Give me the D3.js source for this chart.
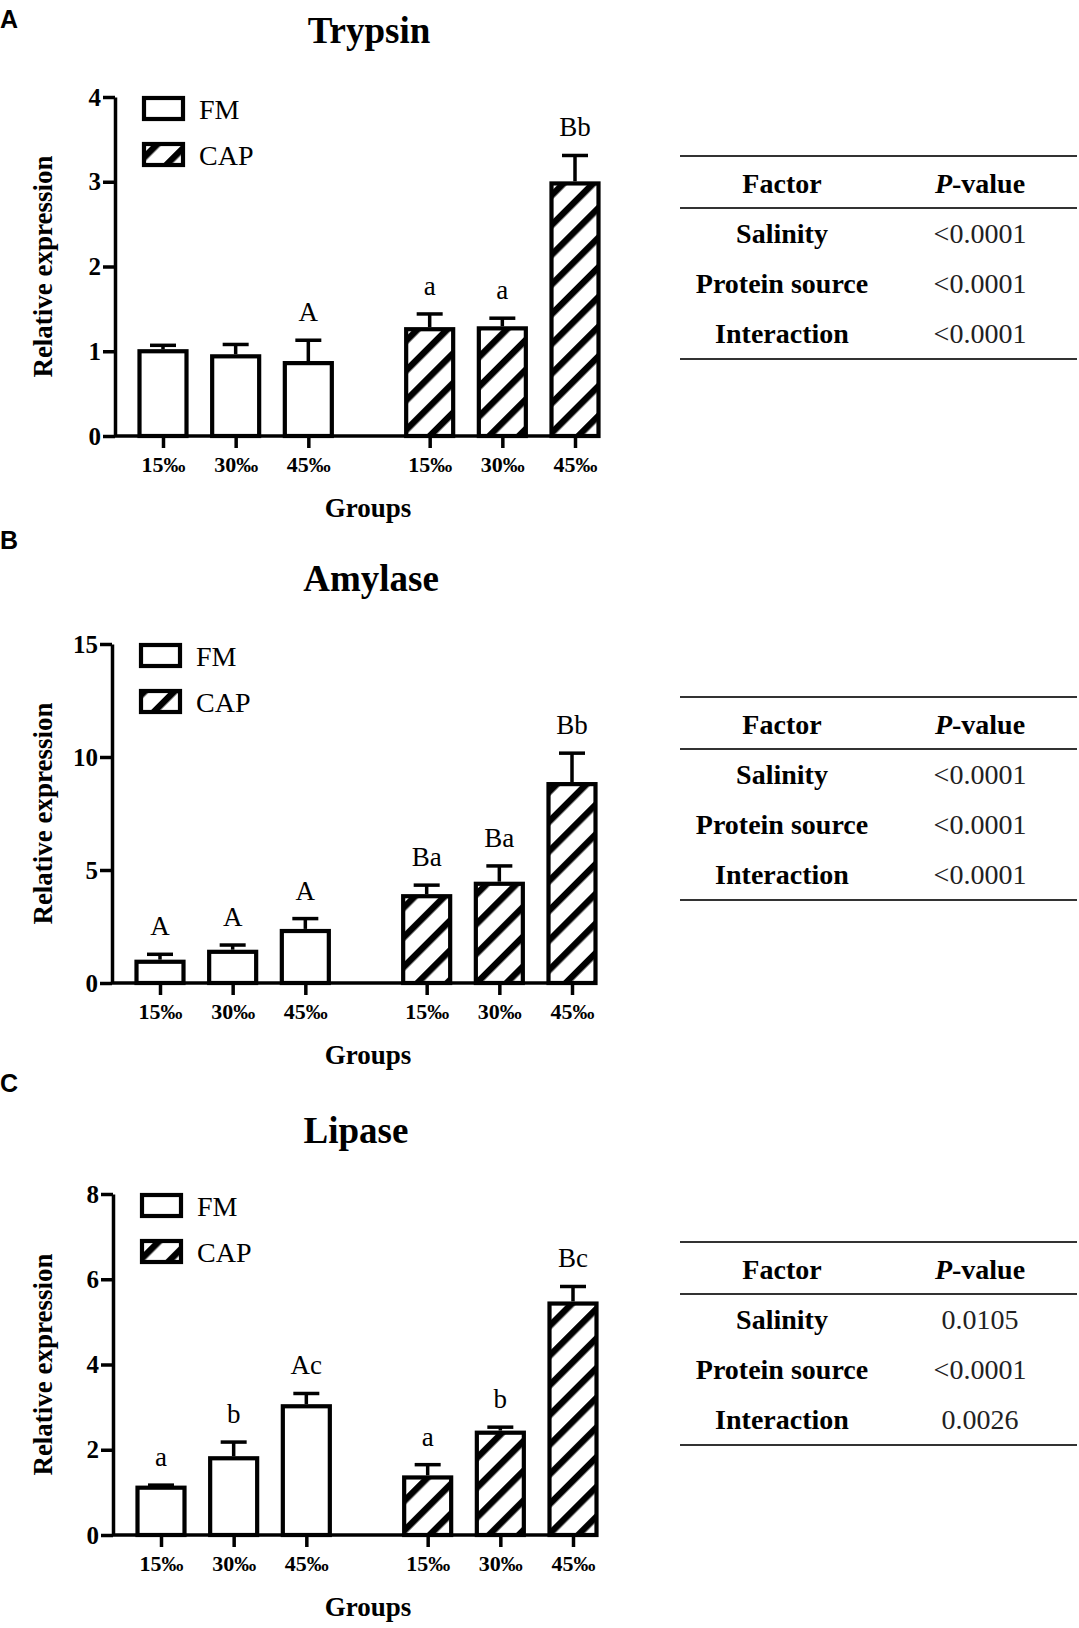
<!DOCTYPE html>
<html>
<head>
<meta charset="utf-8">
<script src="https://cdn.jsdelivr.net/npm/d3@7.9.0/dist/d3.min.js"></script>
<style>
  body { margin: 0; background: #fff; }
  svg { display: block; }
  .serif { font-family: "Liberation Serif", "Times New Roman", serif; }
</style>
</head>
<body>
<svg id="fig" width="1079" height="1628"></svg>
<script>
// group labels along the x axis (FM diets first, then CAP diets)
const groups = ['15‰', '30‰', '45‰', '15‰', '30‰', '45‰'];
const diets = ['FM', 'FM', 'FM', 'CAP', 'CAP', 'CAP'];
const factors = ['Salinity', 'Protein source', 'Interaction'];

// Trypsin
const trypsinMean = [1.00, 0.94, 0.86, 1.26, 1.27, 2.98];
const trypsinErr = [0.07, 0.14, 0.27, 0.18, 0.12, 0.33];
const trypsinLetters = ['', '', 'A', 'a', 'a', 'Bb'];
const trypsinTicks = [0, 1, 2, 3, 4];
const trypsinP = ['<0.0001', '<0.0001', '<0.0001'];

// Amylase
const amylaseMean = [0.94, 1.38, 2.30, 3.84, 4.39, 8.80];
const amylaseErr = [0.33, 0.30, 0.55, 0.49, 0.79, 1.37];
const amylaseLetters = ['A', 'A', 'A', 'Ba', 'Ba', 'Bb'];
const amylaseTicks = [0, 5, 10, 15];
const amylaseP = ['<0.0001', '<0.0001', '<0.0001'];

// Lipase
const lipaseMean = [1.11, 1.80, 3.02, 1.35, 2.40, 5.43];
const lipaseErr = [0.06, 0.38, 0.30, 0.30, 0.13, 0.40];
const lipaseLetters = ['a', 'b', 'Ac', 'a', 'b', 'Bc'];
const lipaseTicks = [0, 2, 4, 6, 8];
const lipaseP = ['0.0105', '<0.0001', '0.0026'];

// where each bar sits on the x axis (gap between the two diet groups)
const slots = [0, 1, 2, 3.67, 4.67, 5.67];

const panels = [
  { letter: 'A', title: 'Trypsin', mean: trypsinMean, err: trypsinErr, labels: trypsinLetters,
    ticks: trypsinTicks, p: trypsinP, axisX: 115, top: 97, bottom: 436,
    letterY: 28, titleY: 43, titleX: 369, tableTop: 156 },
  { letter: 'B', title: 'Amylase', mean: amylaseMean, err: amylaseErr, labels: amylaseLetters,
    ticks: amylaseTicks, p: amylaseP, axisX: 112, top: 644, bottom: 983,
    letterY: 549, titleY: 591, titleX: 371, tableTop: 697 },
  { letter: 'C', title: 'Lipase', mean: lipaseMean, err: lipaseErr, labels: lipaseLetters,
    ticks: lipaseTicks, p: lipaseP, axisX: 113, top: 1194, bottom: 1535,
    letterY: 1092, titleY: 1143, titleX: 356, tableTop: 1242 }
];

const svg = d3.select('#fig');
svg.append('rect').attr('width', 1079).attr('height', 1628).attr('fill', '#fff');

// diagonal hatch for the CAP bars
const defs = svg.append('defs');
const pat = defs.append('pattern')
  .attr('id', 'hatch')
  .attr('patternUnits', 'userSpaceOnUse')
  .attr('width', 21)
  .attr('height', 21)
  .attr('patternTransform', 'rotate(45)');
pat.append('rect').attr('width', 21).attr('height', 21).attr('fill', '#fff');
pat.append('rect').attr('x', 0).attr('width', 6.5).attr('height', 21).attr('fill', '#000');

const barW = 47;
const strokeW = 4.2;

function drawPanel(cfg) {
  const g = svg.append('g');
  const yMax = cfg.ticks[cfg.ticks.length - 1];

  const y = d3.scaleLinear().domain([0, yMax]).range([cfg.bottom, cfg.top]);
  const x = d3.scaleLinear().domain([0, 5.67]).range([cfg.axisX + 48, cfg.axisX + 460]);

  // panel letter
  g.append('text')
    .attr('x', 0).attr('y', cfg.letterY)
    .attr('font-family', '"Liberation Sans", Arial, sans-serif')
    .attr('font-weight', 'bold').attr('font-size', 25)
    .text(cfg.letter);

  // title
  g.append('text').attr('class', 'serif')
    .attr('x', cfg.titleX).attr('y', cfg.titleY)
    .attr('text-anchor', 'middle')
    .attr('font-weight', 'bold').attr('font-size', 37)
    .text(cfg.title);

  // bars
  const idx = d3.range(cfg.mean.length);
  g.selectAll('rect.bar')
    .data(idx)
    .join('rect')
    .attr('class', 'bar')
    .attr('x', i => x(slots[i]) - barW / 2)
    .attr('width', barW)
    .attr('y', i => y(cfg.mean[i]))
    .attr('height', i => y(0) - y(cfg.mean[i]))
    .attr('fill', i => diets[i] === 'CAP' ? 'url(#hatch)' : '#fff')
    .attr('stroke', '#000')
    .attr('stroke-width', strokeW);

  // error bars (upper whisker only)
  const eb = g.selectAll('g.err').data(idx).join('g').attr('class', 'err')
    .attr('stroke', '#000').attr('stroke-width', 3.5);
  eb.append('line')
    .attr('x1', i => x(slots[i])).attr('x2', i => x(slots[i]))
    .attr('y1', i => y(cfg.mean[i]) - strokeW / 2)
    .attr('y2', i => y(cfg.mean[i] + cfg.err[i]));
  eb.append('line')
    .attr('x1', i => x(slots[i]) - 13).attr('x2', i => x(slots[i]) + 13)
    .attr('y1', i => y(cfg.mean[i] + cfg.err[i]))
    .attr('y2', i => y(cfg.mean[i] + cfg.err[i]));

  // significance letters
  g.selectAll('text.sig').data(idx).join('text')
    .attr('class', 'sig serif')
    .attr('x', i => x(slots[i]))
    .attr('y', i => y(cfg.mean[i] + cfg.err[i]) - 19)
    .attr('text-anchor', 'middle')
    .attr('font-size', 27)
    .text(i => cfg.labels[i]);

  // y axis
  const yAxis = g.append('g')
    .attr('transform', `translate(${cfg.axisX},0)`)
    .call(d3.axisLeft(y).tickValues(cfg.ticks).tickFormat(d3.format('d'))
      .tickSize(12).tickSizeOuter(0).tickPadding(2));
  yAxis.selectAll('path, line').attr('stroke', '#000').attr('stroke-width', 3.5);
  yAxis.selectAll('text')
    .attr('font-family', '"Liberation Serif", "Times New Roman", serif')
    .attr('font-weight', 'bold').attr('font-size', 25).attr('fill', '#000');

  // x axis
  const xAxis = g.append('g')
    .attr('transform', `translate(0,${cfg.bottom})`)
    .call(d3.axisBottom(x).tickValues(slots).tickFormat((d, i) => groups[i])
      .tickSize(12).tickSizeOuter(0).tickPadding(8));
  xAxis.select('.domain').remove();
  xAxis.append('line')
    .attr('x1', cfg.axisX).attr('x2', x(slots[5]) + barW / 2 + 1)
    .attr('stroke', '#000').attr('stroke-width', 3.5);
  xAxis.selectAll('line').attr('stroke', '#000').attr('stroke-width', 3.5);
  xAxis.selectAll('text')
    .attr('font-family', '"Liberation Serif", "Times New Roman", serif')
    .attr('font-weight', 'bold').attr('font-size', 22).attr('fill', '#000');

  // axis titles
  g.append('text').attr('class', 'serif')
    .attr('transform', `translate(52,${(cfg.top + cfg.bottom) / 2}) rotate(-90)`)
    .attr('text-anchor', 'middle')
    .attr('font-weight', 'bold').attr('font-size', 27)
    .text('Relative expression');
  g.append('text').attr('class', 'serif')
    .attr('x', 368).attr('y', cfg.bottom + 81)
    .attr('text-anchor', 'middle')
    .attr('font-weight', 'bold').attr('font-size', 27)
    .text('Groups');

  // legend
  const legend = [['FM', '#fff'], ['CAP', 'url(#hatch)']];
  legend.forEach(([name, fill], k) => {
    const ly = cfg.top + 1 + k * 46;
    g.append('rect')
      .attr('x', cfg.axisX + 29).attr('y', ly)
      .attr('width', 39).attr('height', 21)
      .attr('fill', fill).attr('stroke', '#000').attr('stroke-width', strokeW);
    g.append('text').attr('class', 'serif')
      .attr('x', cfg.axisX + 84).attr('y', ly + 21)
      .attr('font-size', 28)
      .text(name);
  });

  // two-way ANOVA table
  const t0 = cfg.tableTop;
  const tx1 = 680, tx2 = 1077, c1 = 782, c2 = 980;
  const rule = (yy) => g.append('line')
    .attr('x1', tx1).attr('x2', tx2).attr('y1', yy).attr('y2', yy)
    .attr('stroke', '#333').attr('stroke-width', 2);
  rule(t0);
  rule(t0 + 52);
  rule(t0 + 203);

  g.append('text').attr('class', 'serif')
    .attr('x', c1).attr('y', t0 + 37).attr('text-anchor', 'middle')
    .attr('font-weight', 'bold').attr('font-size', 28).text('Factor');
  const ph = g.append('text').attr('class', 'serif')
    .attr('x', c2).attr('y', t0 + 37).attr('text-anchor', 'middle')
    .attr('font-weight', 'bold').attr('font-size', 28);
  ph.append('tspan').attr('font-style', 'italic').text('P');
  ph.append('tspan').text('-value');

  factors.forEach((f, r) => {
    const ry = t0 + 87 + r * 50;
    g.append('text').attr('class', 'serif')
      .attr('x', c1).attr('y', ry).attr('text-anchor', 'middle')
      .attr('font-weight', 'bold').attr('font-size', 28).text(f);
    g.append('text').attr('class', 'serif')
      .attr('x', c2).attr('y', ry).attr('text-anchor', 'middle')
      .attr('font-size', 28).attr('fill', '#222').text(cfg.p[r]);
  });
}

panels.forEach(drawPanel);
</script>
</body>
</html>
